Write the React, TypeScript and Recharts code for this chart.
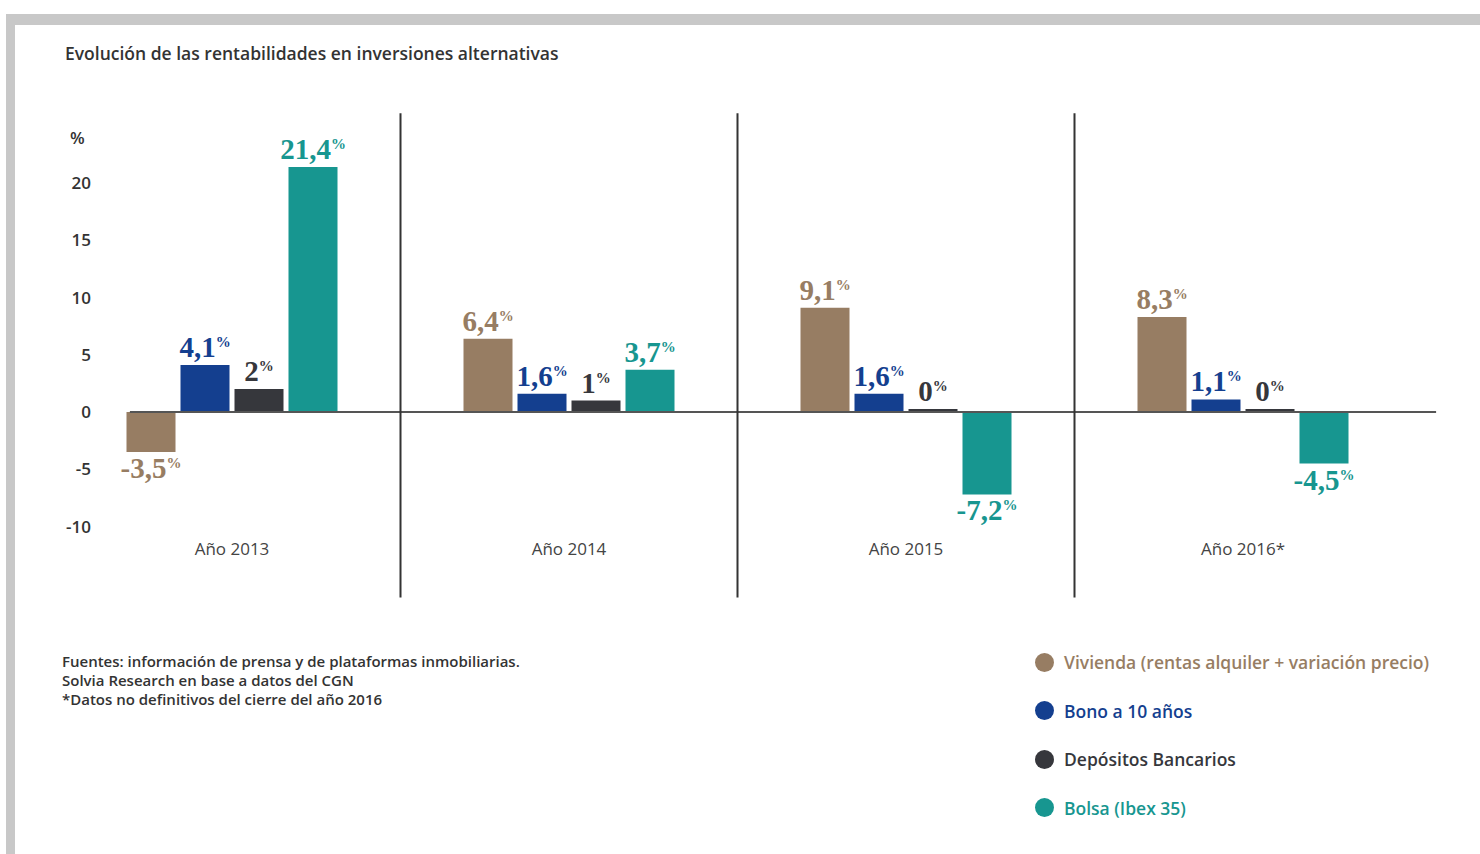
import { BarChart, Bar, XAxis, YAxis, ReferenceLine, LabelList } from 'recharts';

const years = ['Año 2013', 'Año 2014', 'Año 2015', 'Año 2016*'];
const vivienda = [-3.5, 6.4, 9.1, 8.3];
const bono = [4.1, 1.6, 1.6, 1.1];
const depositos = [2, 1, 0, 0];
const bolsa = [21.4, 3.7, -7.2, -4.5];
const yTicks = [-10, -5, 0, 5, 10, 15, 20];
const separators = [1, 2, 3];

const series = [
    { key: 'vivienda', name: 'Vivienda (rentas alquiler + variación precio)', color: '#977d63', values: vivienda },
    { key: 'bono', name: 'Bono a 10 años', color: '#143f8f', values: bono },
    { key: 'depositos', name: 'Depósitos Bancarios', color: '#36373c', values: depositos },
    { key: 'bolsa', name: 'Bolsa (Ibex 35)', color: '#179690', values: bolsa },
];

// pos = centre of each year's band on the hidden 0..4 numeric axis
const data = years.map((year, i) => {
    const row: any = { year, pos: i + 0.5 };
    series.forEach(s => { row[s.key] = s.values[i]; });
    return row;
});

const SANS = '"Open Sans", "Noto Sans", sans-serif';
const SERIF = '"Liberation Serif", "DejaVu Serif", serif';

// value label: bold serif number with a small superscript %
const makeLabel = (color: string) => (props: any) => {
    const { x, y, width, height, value } = props;
    if (value === undefined || value === null) return null;
    const top = Math.min(y, y + height);
    const bottom = Math.max(y, y + height);
    const cx = x + width / 2;
    const ty = value < 0 ? bottom + 26 : top - 8;
    const txt = String(value).replace('.', ',');
    return (
        <text x={cx} y={ty} textAnchor="middle" fill={color} fontFamily={SERIF} fontWeight={700}>
            <tspan fontSize={29}>{txt}</tspan>
            <tspan fontSize={15} dy={-10}>%</tspan>
        </text>
    );
};

const YTick = (props: any) => {
    const { y, payload } = props;
    return (
        <text x={91} y={y} dy={6} textAnchor="end" fill="#333" fontFamily={SANS} fontWeight={600} fontSize={17}>
            {payload.value}
        </text>
    );
};

const App = () => {
    return (
        <div style={{ position: 'absolute', left: 0, top: 0, width: 1480, height: 854, background: '#fff', overflow: 'hidden' }}>
            {/* grey frame */}
            <div style={{ position: 'absolute', left: 6, top: 14, right: 0, height: 11, background: '#c8c8c8' }} />
            <div style={{ position: 'absolute', left: 6, top: 14, width: 9, bottom: 0, background: '#c8c8c8' }} />

            <div style={{ position: 'absolute', left: 65, top: 41, fontFamily: SANS, fontWeight: 600, fontSize: 17.5, color: '#333', whiteSpace: 'nowrap' }}>
                Evolución de las rentabilidades en inversiones alternativas
            </div>
            <div style={{ position: 'absolute', left: 70, top: 126, fontFamily: SANS, fontWeight: 600, fontSize: 17, color: '#333' }}>%</div>

            <div style={{ position: 'absolute', left: 0, top: 0 }}>
                <BarChart
                    width={1480}
                    height={620}
                    data={data}
                    margin={{ top: 125.75, right: 68.5, bottom: 53.5, left: 23.5 }}
                    barSize={49}
                    barGap={5}
                >
                    <XAxis
                        dataKey="year"
                        axisLine={false}
                        tickLine={false}
                        height={40}
                        tickMargin={10}
                        tick={{ fill: '#444', fontFamily: SANS, fontSize: 17, fontWeight: 400 }}
                    />
                    <XAxis xAxisId="n" dataKey="pos" type="number" domain={[0, 4]} allowDataOverflow hide />
                    <YAxis
                        domain={[-10, 25]}
                        ticks={yTicks}
                        width={40}
                        axisLine={false}
                        tickLine={false}
                        tick={<YTick />}
                    />
                    {series.map(s => (
                        <Bar
                            key={s.key}
                            dataKey={s.key}
                            name={s.name}
                            fill={s.color}
                            minPointSize={s.key === 'depositos' ? 3 : 0}
                            isAnimationActive={false}
                        >
                            <LabelList dataKey={s.key} content={makeLabel(s.color)} />
                        </Bar>
                    ))}
                    <ReferenceLine
                        xAxisId="n"
                        segment={[{ x: 0.197, y: 0 }, { x: 4.073, y: 0 }]}
                        stroke="#555"
                        strokeWidth={2}
                        ifOverflow="visible"
                    />
                    {separators.map(v => (
                        <ReferenceLine
                            key={v}
                            xAxisId="n"
                            segment={[{ x: v, y: 26.1 }, { x: v, y: -16.2 }]}
                            stroke="#333"
                            strokeWidth={2}
                            ifOverflow="visible"
                        />
                    ))}
                </BarChart>
            </div>

            <div style={{ position: 'absolute', left: 62, top: 652, fontFamily: SANS, fontWeight: 600, fontSize: 15, lineHeight: '19px', color: '#333', whiteSpace: 'nowrap' }}>
                <div>Fuentes: información de prensa y de plataformas inmobiliarias.</div>
                <div>Solvia Research en base a datos del CGN</div>
                <div>*Datos no definitivos del cierre del año 2016</div>
            </div>

            <div style={{ position: 'absolute', left: 1035, top: 650, fontFamily: SANS, fontWeight: 600, fontSize: 17.5 }}>
                {series.map(s => (
                    <div key={s.key} style={{ display: 'flex', alignItems: 'center', height: 24, marginBottom: 24.5, color: s.color, whiteSpace: 'nowrap' }}>
                        <span style={{ display: 'inline-block', width: 19, height: 19, borderRadius: '50%', background: s.color, marginRight: 10 }} />
                        {s.name}
                    </div>
                ))}
            </div>
        </div>
    );
};

export default App;
